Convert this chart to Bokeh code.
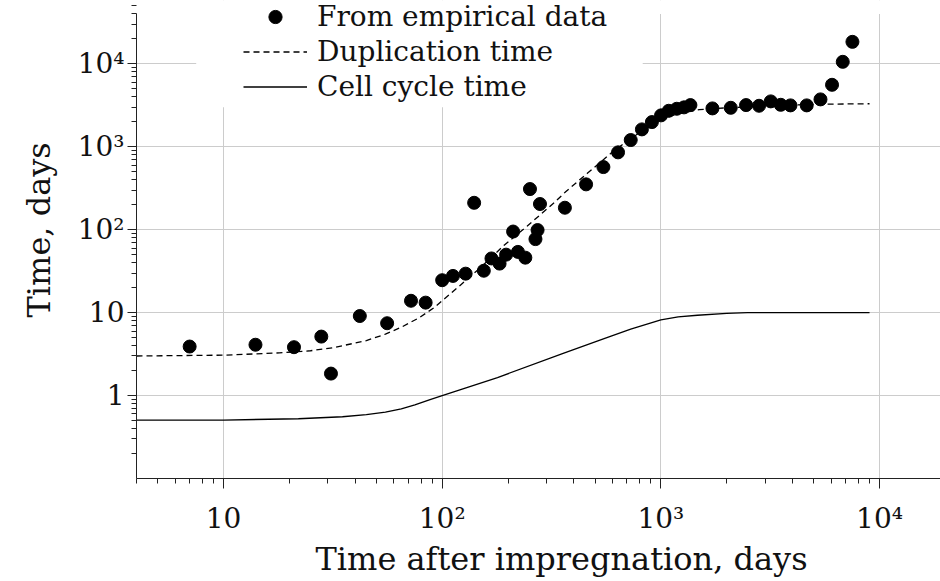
from bokeh.plotting import figure
from bokeh.models import (Range1d, FixedTicker, Legend, LegendItem, BoxAnnotation,
                          ColumnDataSource, Title)
from bokeh.embed import file_html
from bokeh.resources import INLINE

# ---- data ----
emp_days = [7, 14, 21, 28, 31, 42, 56, 72, 84, 100, 112, 128, 140, 155, 168, 183,
            196, 211, 222, 240, 252, 267, 273, 280, 364, 455, 546, 637, 728, 819,
            910, 1002, 1086, 1182, 1276, 1365, 1721, 2087, 2453, 2812, 3181, 3532,
            3914, 4645, 5369, 6064, 6788, 7516]
emp_time = [3.9, 4.1, 3.83, 5.14, 1.84, 9.1, 7.45, 13.9, 13.2, 24.6, 27.7, 29.5, 211,
            32, 45, 39, 50, 95, 54, 46, 309, 77, 99, 204, 184, 352, 569, 856, 1205,
            1620, 1984, 2390, 2715, 2870, 2984, 3180, 2900, 2950, 3180, 3120, 3524,
            3206, 3154, 3154, 3725, 5586, 10570, 18400]

dup_days = [4, 10, 18, 25, 32, 45, 55, 65, 78, 92, 120, 150, 192, 245, 325, 367, 461,
            590, 680, 810, 1000, 1200, 1500, 2000, 3000, 5000, 9000]
dup_time = [3.0, 3.07, 3.27, 3.47, 3.79, 4.6, 5.5, 6.67, 8.6, 11.5, 21, 35, 65, 111,
            211, 287, 478, 832, 1100, 1520, 2140, 2500, 2800, 2950, 3100, 3250, 3300]

cc_days = [4, 10, 22, 35, 45, 55, 65, 75, 88, 100, 179, 360, 550, 728, 1000, 1200,
           1470, 2000, 2490, 9000]
cc_time = [0.505, 0.507, 0.525, 0.555, 0.59, 0.63, 0.69, 0.77, 0.895, 1.0, 1.65, 3.24,
           4.85, 6.31, 8.17, 8.9, 9.3, 9.8, 10.0, 10.0]

x_major = [10, 100, 1000, 10000]
x_labels = ["10", "10\u00b2", "10\u00b3", "10\u2074"]
y_major = [1, 10, 100, 1000, 10000]
y_labels = ["1", "10", "10\u00b2", "10\u00b3", "10\u2074"]
minor = [k * 10.0 ** e for e in range(-1, 5) for k in range(2, 10)]

X_MIN, X_MAX = 4, 19000
Y_MIN, Y_AXIS_TOP, Y_VIEW_TOP = 0.1, 40000, 58000

FONT = "DejaVu Serif"

p = figure(width=940, height=581, x_axis_type="log", y_axis_type="log",
           x_range=Range1d(X_MIN, X_MAX), y_range=Range1d(Y_MIN, Y_VIEW_TOP),
           output_backend="svg", toolbar_location=None,
           min_border_left=136, min_border_right=0, min_border_top=0, min_border_bottom=103)
p.outline_line_color = None
p.background_fill_color = "white"
p.border_fill_color = "white"

p.xaxis.ticker = FixedTicker(ticks=x_major, minor_ticks=minor)
p.yaxis.ticker = FixedTicker(ticks=y_major, minor_ticks=minor)
p.yaxis.bounds = (Y_MIN, Y_AXIS_TOP)
p.xaxis.major_label_overrides = {float(t): l for t, l in zip(x_major, x_labels)}
p.yaxis.major_label_overrides = {float(t): l for t, l in zip(y_major, y_labels)}
p.xgrid.ticker = FixedTicker(ticks=x_major)
p.ygrid.ticker = FixedTicker(ticks=y_major)
for g in (p.xgrid, p.ygrid):
    g.grid_line_color = "#cccccc"
    g.grid_line_width = 1

for ax in (p.xaxis, p.yaxis):
    ax.axis_line_color = "#222222"
    ax.axis_line_width = 1
    ax.major_tick_line_color = "#222222"
    ax.minor_tick_line_color = "#222222"
    ax.major_tick_in = 0
    ax.minor_tick_in = 0
    ax.minor_tick_out = 5
    ax.major_label_text_font = FONT
    ax.major_label_text_font_size = "28px"
    ax.major_label_text_color = "#111111"
p.xaxis.major_tick_out = 10
p.yaxis.major_tick_out = 9
p.xaxis.major_label_standoff = 13
p.yaxis.major_label_standoff = 3

# axis titles (Titles so that they can be shifted like in the reference)
p.add_layout(Title(text="Time after impregnation, days", align="left", offset=179,
                   standoff=0, text_font=FONT, text_font_size="32px",
                   text_font_style="normal", text_color="#111111"), "below")
p.add_layout(Title(text="Time, days", align="left", offset=161, standoff=33,
                   text_font=FONT, text_font_size="32px",
                   text_font_style="normal", text_color="#111111"), "left")

# white areas: behind the legend, and above the top of the y axis (hide grid lines)
p.add_layout(BoxAnnotation(left=7.5, right=826, bottom=3000, top=Y_VIEW_TOP,
                           fill_color="white", fill_alpha=1, line_alpha=0,
                           level="underlay"))
p.add_layout(BoxAnnotation(left=X_MIN, right=X_MAX, bottom=Y_AXIS_TOP, top=Y_VIEW_TOP,
                           fill_color="white", fill_alpha=1, line_alpha=0,
                           level="underlay"))

src = ColumnDataSource(dict(x=emp_days, y=emp_time))
r_pts = p.scatter("x", "y", source=src, size=13, color="black")
r_dup = p.line(dup_days, dup_time, line_color="black", line_width=1.3, line_dash="6 4")
r_cc = p.line(cc_days, cc_time, line_color="black", line_width=1.3)

legend = Legend(items=[LegendItem(label="From empirical data", renderers=[r_pts]),
                       LegendItem(label="Duplication time", renderers=[r_dup]),
                       LegendItem(label="Cell cycle time", renderers=[r_cc])],
                location=(107, 375), padding=0, spacing=2, margin=0,
                glyph_width=64, glyph_height=33, label_height=33, label_standoff=10,
                label_text_font=FONT, label_text_font_size="28px", label_text_color="#111111",
                background_fill_alpha=0, border_line_alpha=0)
p.add_layout(legend)

open("out.html", "w").write(file_html(p, INLINE))
